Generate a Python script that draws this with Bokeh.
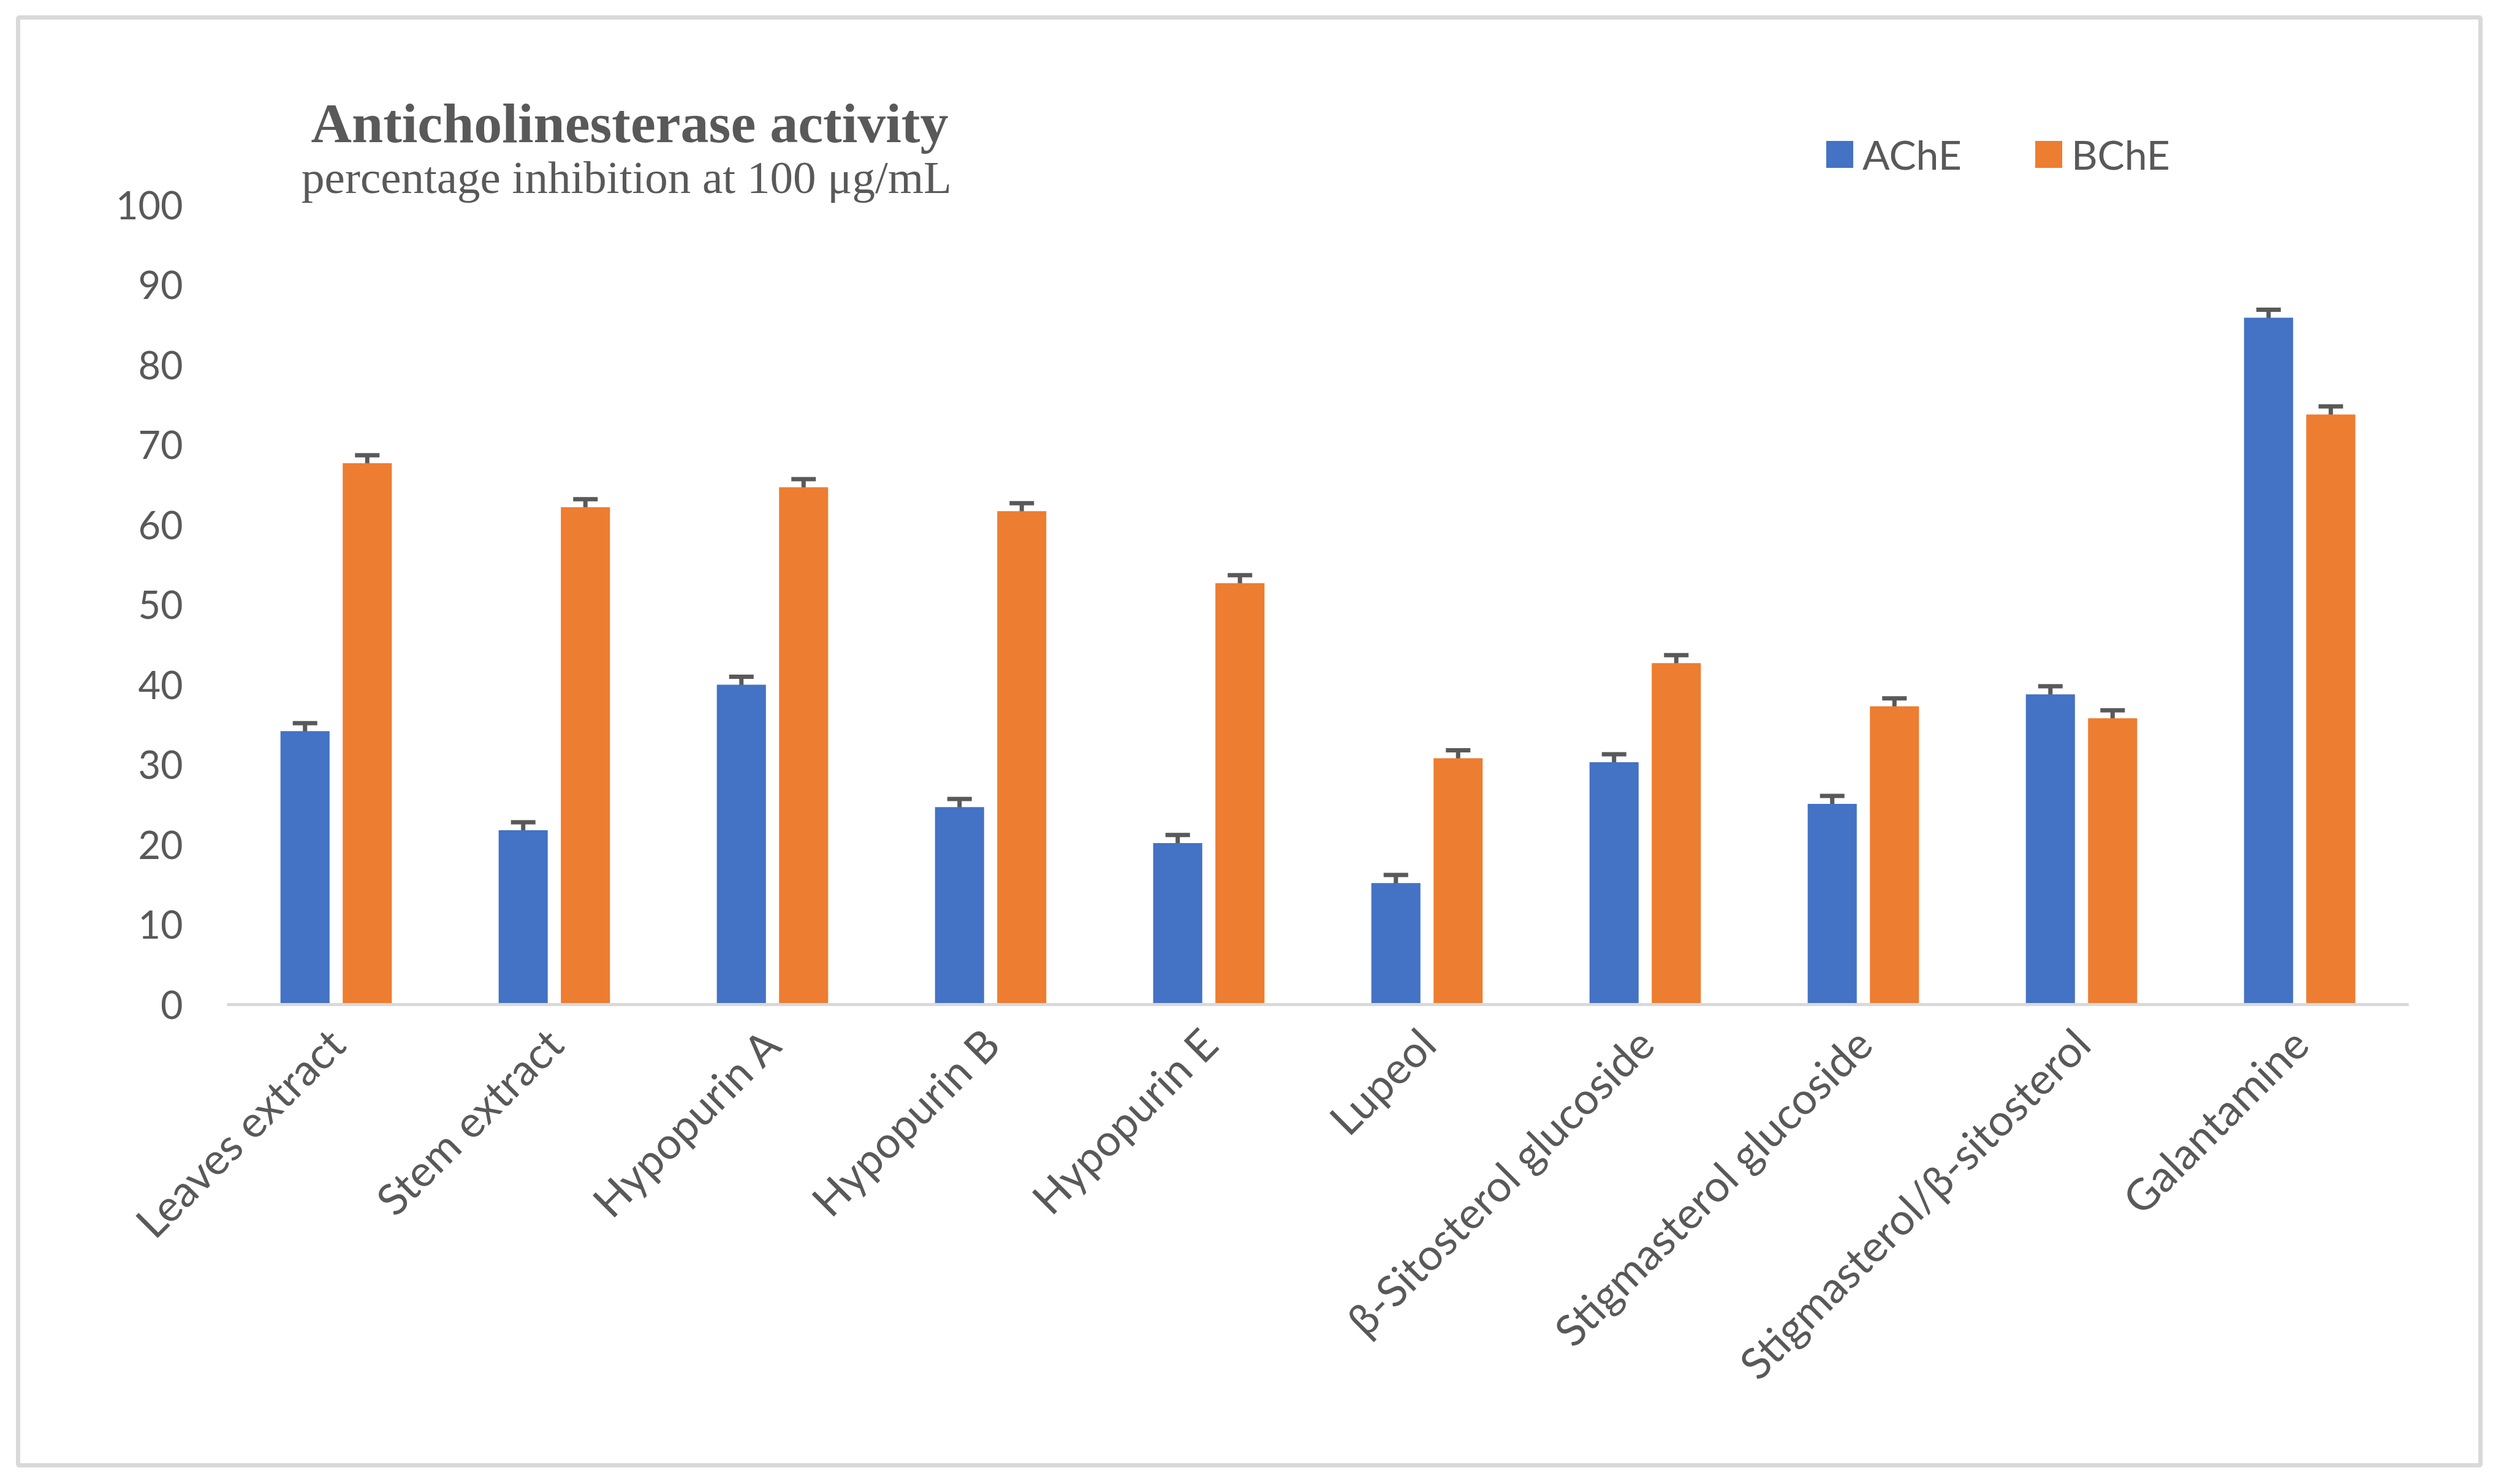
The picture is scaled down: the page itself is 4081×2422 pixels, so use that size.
from bokeh.plotting import figure
from bokeh.models import (Range1d, Whisker, TeeHead, ColumnDataSource,
                          Legend, LegendItem, Label, FixedTicker)
from bokeh.embed import file_html
from bokeh.resources import INLINE
import math

categories = ["Leaves extract", "Stem extract", "Hypopurin A", "Hypopurin B", "Hypopurin E",
              "Lupeol", "β-Sitosterol glucoside", "Stigmasterol glucoside",
              "Stigmasterol/β-sitosterol", "Galantamine"]
ache = [34.2, 21.8, 40.0, 24.7, 20.2, 15.2, 30.3, 25.1, 38.8, 85.9]
bche = [67.7, 62.2, 64.7, 61.7, 52.7, 30.8, 42.7, 37.3, 35.8, 73.8]
ache_err = [1.0, 1.0, 1.0, 1.0, 1.0, 1.0, 1.0, 1.0, 1.0, 1.0]
bche_err = [1.0, 1.0, 1.0, 1.0, 1.0, 1.0, 1.0, 1.0, 1.0, 1.0]
y_ticks = [0, 10, 20, 30, 40, 50, 60, 70, 80, 90, 100]
series_names = ["AChE", "BChE"]
title_text = "Anticholinesterase activity"
subtitle_text = "percentage inhibition at 100 μg/mL"

TEXT = "#595959"
BLUE = "#4472C4"
ORANGE = "#ED7D31"
GRAY = "#D9D9D9"

# layout (pixels in the figure canvas)
W, H = 4064, 2405
FRAME_L, FRAME_R, FRAME_T, FRAME_B = 29, 4047, 28, 2391   # outer chart border
PLOT_L, PLOT_R, Y0_PX, Y100_PX = 370, 3930, 1639, 334      # plot area

n = len(categories)
xs = [i + 0.5 for i in range(n)]
off = 0.1426
bw = 0.225

src = ColumnDataSource(dict(
    x_a=[x - off for x in xs], x_b=[x + off for x in xs],
    ache=ache, bche=bche,
    ache_up=[v + e for v, e in zip(ache, ache_err)],
    ache_lo=[v - e for v, e in zip(ache, ache_err)],
    bche_up=[v + e for v, e in zip(bche, bche_err)],
    bche_lo=[v - e for v, e in zip(bche, bche_err)],
))

xpx = (PLOT_R - PLOT_L) / n
ypx = (Y0_PX - Y100_PX) / 100.0
x_range = Range1d(-(PLOT_L - FRAME_L) / xpx, n + (FRAME_R - PLOT_R) / xpx)
y_range = Range1d(-(FRAME_B - Y0_PX) / ypx, 100 + (Y100_PX - FRAME_T) / ypx)

p = figure(x_range=x_range, y_range=y_range, width=W, height=H,
           output_backend="svg", toolbar_location=None,
           min_border_left=FRAME_L, min_border_right=W - FRAME_R,
           min_border_top=FRAME_T, min_border_bottom=H - FRAME_B)
p.outline_line_color = GRAY
p.outline_line_width = 7
p.xgrid.grid_line_color = None
p.ygrid.grid_line_color = None
p.background_fill_color = "white"
p.border_fill_color = "white"

r1 = p.vbar(x="x_a", top="ache", width=bw, source=src, fill_color=BLUE, line_color=None)
r2 = p.vbar(x="x_b", top="bche", width=bw, source=src, fill_color=ORANGE, line_color=None)

for base, up, lo in [("x_a", "ache_up", "ache_lo"), ("x_b", "bche_up", "bche_lo")]:
    p.add_layout(Whisker(base=base, upper=up, lower=lo, source=src,
                         line_color=TEXT, line_width=7,
                         upper_head=TeeHead(size=40, line_color=TEXT, line_width=7),
                         lower_head=TeeHead(size=40, line_color=TEXT, line_width=7)))

# x axis (categories) drawn at y = 0
xa = p.xaxis[0]
xa.fixed_location = 0
xa.bounds = (0, n)
xa.ticker = FixedTicker(ticks=xs)
xa.major_label_overrides = {x: c for x, c in zip(xs, categories)}
xa.axis_line_color = GRAY
xa.axis_line_width = 5
xa.major_tick_line_color = None
xa.minor_tick_line_color = None
xa.major_label_orientation = math.pi / 4
xa.major_label_text_font = "Lato"
xa.major_label_text_font_size = "71px"
xa.major_label_text_color = TEXT
xa.major_label_standoff = 45

ya = p.yaxis[0]
ya.fixed_location = 0
ya.bounds = (0, 100)
ya.axis_line_color = None
ya.major_tick_line_color = None
ya.minor_tick_line_color = None
ya.ticker = FixedTicker(ticks=y_ticks)
ya.major_label_text_font = "Lato"
ya.major_label_text_font_size = "63px"
ya.major_label_text_color = TEXT
ya.major_label_standoff = 66

# title / subtitle (screen units)
p.add_layout(Label(x=998, y=H - 214, x_units="screen", y_units="screen", text=title_text,
                   text_font="Liberation Serif", text_font_style="bold",
                   text_font_size="92px", text_color=TEXT, text_align="center",
                   text_baseline="alphabetic"))
p.add_layout(Label(x=993, y=H - 303, x_units="screen", y_units="screen", text=subtitle_text,
                   text_font="Liberation Serif", text_font_size="75px", text_color=TEXT,
                   text_align="center", text_baseline="alphabetic"))

legend = Legend(items=[LegendItem(label=series_names[0], renderers=[r1]),
                       LegendItem(label=series_names[1], renderers=[r2])],
                orientation="horizontal", location=(2945, 2100),
                glyph_width=55, glyph_height=55, label_standoff=10, spacing=114,
                padding=0, margin=0, border_line_color=None, background_fill_alpha=0,
                label_text_font="Lato", label_text_font_size="66px",
                label_text_color=TEXT)
p.add_layout(legend, "center")

open("out.html", "w").write(file_html(p, INLINE))
